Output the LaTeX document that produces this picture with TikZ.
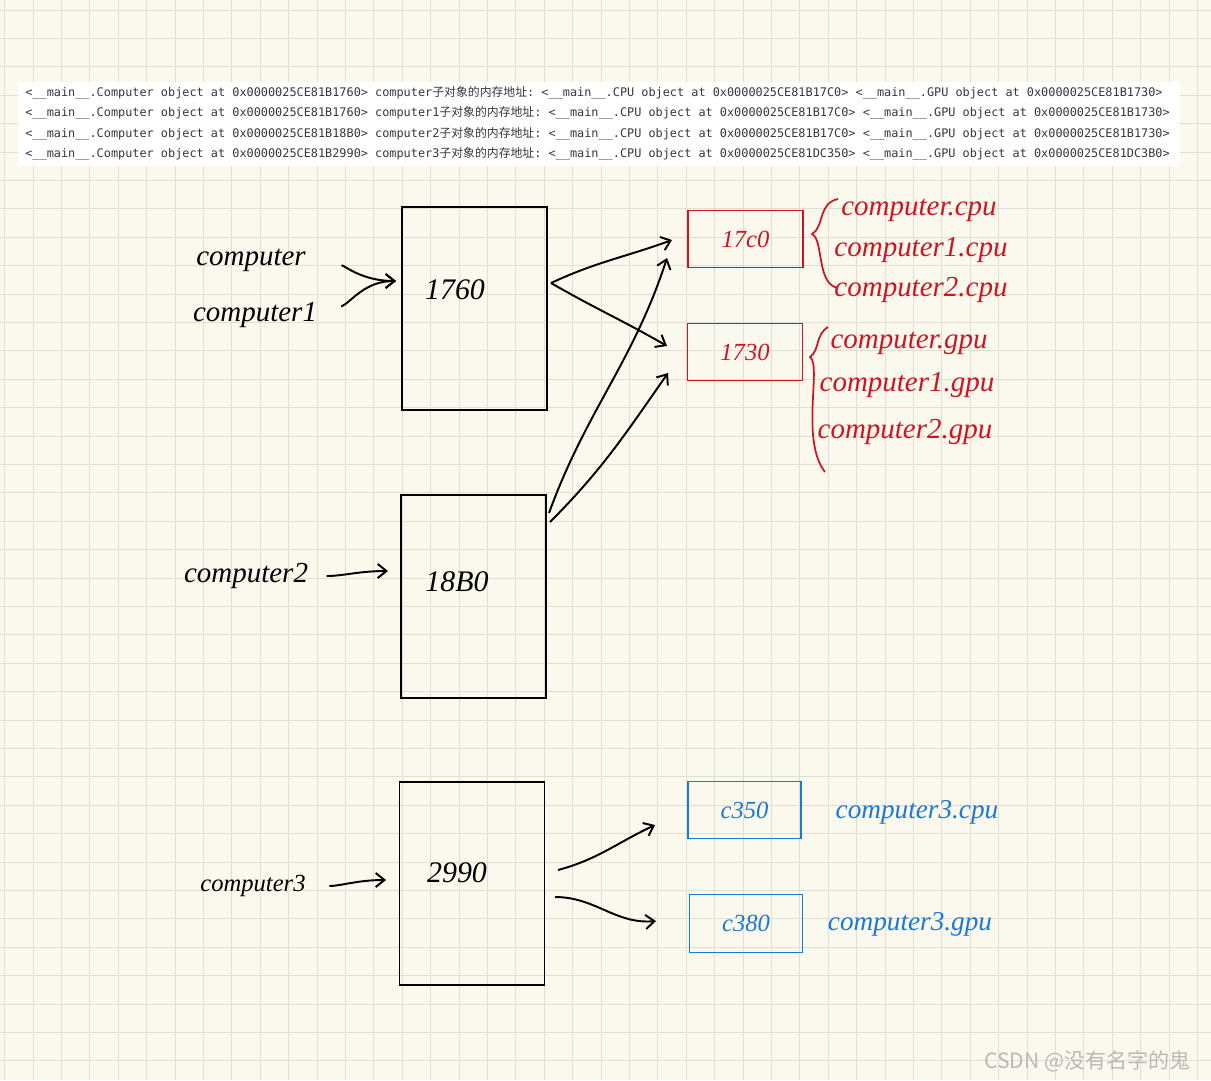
\documentclass[tikz,border=0pt]{standalone}
\usepackage{fontspec}
\setmainfont{Liberation Serif}
\setmonofont{DejaVu Sans Mono}
\newfontfamily\cjk{Noto Sans CJK SC}
\usetikzlibrary{arrows.meta}

\definecolor{paper}{RGB}{251,248,238}
\definecolor{gridc}{RGB}{226,222,208}
\definecolor{inkred}{RGB}{204,22,34}
\definecolor{inkblue}{RGB}{28,120,214}
\definecolor{logtxt}{RGB}{55,55,60}

\tikzset{
  gridln/.style={gridc, line width=0.45pt},
  logline/.style={anchor=west, inner sep=0pt, text=logtxt,
    font=\ttfamily\fontsize{6.75}{8}\selectfont},
  membox/.style={draw, line width=0.9pt, inner sep=0pt,
    minimum width=2.9cm, minimum height=4.06cm},
  redbox/.style={draw=inkred, line width=0.8pt, inner sep=0pt,
    minimum width=2.3cm, minimum height=1.14cm},
  bluebox/.style={draw=inkblue, line width=0.8pt, inner sep=0pt,
    minimum width=2.26cm, minimum height=1.15cm},
  handtxt/.style={font=\itshape\fontsize{16.5}{18}\selectfont},
  memnum/.style={font=\itshape\fontsize{17}{18}\selectfont},
  smallnum/.style={font=\itshape\fontsize{14}{16}\selectfont},
  pen/.style={line width=1.1pt, -{Straight Barb[length=5pt,width=8pt]}},
}

\begin{document}
\begin{tikzpicture}[x=0.02cm, y=-0.02cm]
  % paper and grid
  \fill[paper] (0,0) rectangle (1211,1080);
  \useasboundingbox (0,0) rectangle (1211,1080);
  \foreach \i in {0,...,42}
    \draw[gridln] ({4.6+28.4*\i},0) -- ({4.6+28.4*\i},1080);
  \foreach \j in {0,...,37}
    \draw[gridln] (0,{10+28.4*\j}) -- (1211,{10+28.4*\j});

  % printed output
  \fill[white] (18,82) rectangle (1180,166);
  \node[logline] (log1) at (25,93) {<\_\_main\_\_.Computer object at 0x0000025CE81B1760> computer{\cjk 子对象的内存地址}: <\_\_main\_\_.CPU object at 0x0000025CE81B17C0> <\_\_main\_\_.GPU object at 0x0000025CE81B1730>};
  \node[logline] (log2) at (25,113) {<\_\_main\_\_.Computer object at 0x0000025CE81B1760> computer1{\cjk 子对象的内存地址}: <\_\_main\_\_.CPU object at 0x0000025CE81B17C0> <\_\_main\_\_.GPU object at 0x0000025CE81B1730>};
  \node[logline] (log3) at (25,134) {<\_\_main\_\_.Computer object at 0x0000025CE81B18B0> computer2{\cjk 子对象的内存地址}: <\_\_main\_\_.CPU object at 0x0000025CE81B17C0> <\_\_main\_\_.GPU object at 0x0000025CE81B1730>};
  \node[logline] (log4) at (25,154) {<\_\_main\_\_.Computer object at 0x0000025CE81B2990> computer3{\cjk 子对象的内存地址}: <\_\_main\_\_.CPU object at 0x0000025CE81DC350> <\_\_main\_\_.GPU object at 0x0000025CE81DC3B0>};

  % computer objects
  \node[membox] (m1760) at (474.5,308.5) {};
  \node[membox] (m18B0) at (473.5,596.5) {};
  \node[membox] (m2990) at (472,883.5) {};
  \node[memnum] (t1760) at (455,290) {1760};
  \node[memnum] (t18B0) at (457,582) {18B0};
  \node[memnum] (t2990) at (457,873) {2990};

  % names
  \node[handtxt] (comp0) at (251,260) {computer};
  \node[handtxt] (comp1) at (255,315) {computer1};
  \node[handtxt] (comp2) at (246,576) {computer2};
  \node[handtxt, font=\itshape\fontsize{14}{16}\selectfont] (comp3) at (253,886) {computer3};

  % child objects
  \node[redbox] (c17C0) at (745.5,239) {};
  \node[redbox] (c1730) at (745,352) {};
  \node[bluebox] (cC350) at (744.5,810) {};
  \node[bluebox] (cC3B0) at (746,923.5) {};
  \node[smallnum, inkred] at (c17C0) {17c0};
  \node[smallnum, inkred] at (c1730) {1730};
  \node[smallnum, inkblue] at (cC350) {c350};
  \node[smallnum, inkblue] at (cC3B0) {c380};

  % red notes
  \node[handtxt, inkred] (n1) at (919,210) {computer.cpu};
  \node[handtxt, inkred] (n2) at (921,250) {computer1.cpu};
  \node[handtxt, inkred] (n3) at (921,290) {computer2.cpu};
  \node[handtxt, inkred] (n4) at (909,343) {computer.gpu};
  \node[handtxt, inkred] (n5) at (907,385) {computer1.gpu};
  \node[handtxt, inkred] (n6) at (905,432) {computer2.gpu};
  \draw[inkred, line width=1pt] (838,199) .. controls (818,203) and (824,228) .. (812,234)
    .. controls (824,240) and (816,284) .. (838,288);
  \draw[inkred, line width=1pt] (828,327) .. controls (815,335) and (820,350) .. (810,357)
    .. controls (822,365) and (800,440) .. (825,472);

  % blue notes
  \node[handtxt, inkblue, font=\itshape\fontsize{15.5}{17}\selectfont] (n7) at (917,812) {computer3.cpu};
  \node[handtxt, inkblue, font=\itshape\fontsize{15.5}{17}\selectfont] (n8) at (910,924) {computer3.gpu};

  % arrow ends
  \coordinate (a1760in) at (396,281);
  \coordinate (a1760out) at (551,283);
  \coordinate (a18B0in) at (388,571);
  \coordinate (a18B0outA) at (549,513);
  \coordinate (a18B0outB) at (550,522);
  \coordinate (a2990in) at (386,880);
  \coordinate (a2990outA) at (558,870);
  \coordinate (a2990outB) at (555,897);
  \coordinate (a17C0inA) at (672,240);
  \coordinate (a17C0inB) at (667,258);
  \coordinate (a1730inA) at (667,346);
  \coordinate (a1730inB) at (668,373);
  \coordinate (aC350in) at (655,825);
  \coordinate (aC3B0in) at (656,921);

  \draw[pen, shorten <=0.6cm] (comp0.east) to[out=-10, in=180] (a1760in);
  \draw[pen, shorten <=0.4cm] (comp1.east) to[out=25, in=180] (a1760in);
  \draw[pen, shorten <=0.25cm] (comp2.east) to[out=0, in=180] (a18B0in);
  \draw[pen, shorten <=0.35cm] (comp3.east) to[out=0, in=180] (a2990in);
  \draw[pen] (a1760out) to[out=25, in=200] (a17C0inA);
  \draw[pen] (a1760out) to[out=-30, in=150] (a1730inA);
  \draw[pen] (a18B0outA) to[out=70, in=-108] (a17C0inB);
  \draw[pen] (a18B0outB) to[out=45, in=-125] (a1730inB);
  \draw[pen] (a2990outA) to[out=15, in=205] (aC350in);
  \draw[pen] (a2990outB) to[out=0, in=185] (aC3B0in);

  % watermark
  \node[anchor=east, text=gray!55, font=\cjk\fontsize{12}{14}\selectfont] (mark) at (1197,1061) {CSDN @没有名字的鬼};
\end{tikzpicture}
\end{document}
